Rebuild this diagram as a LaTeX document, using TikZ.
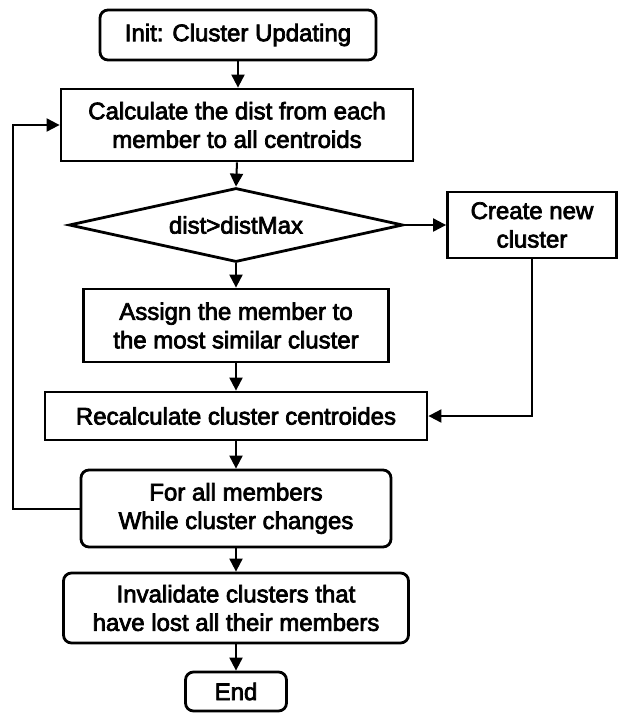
\documentclass[tikz,border=0pt]{standalone}
\usepackage{fontspec}
\setmainfont{Liberation Sans}
\newfontfamily\labfont{Liberation Sans}[FakeBold=3]
\usetikzlibrary{shapes.geometric,arrows.meta}
\tikzset{
  base/.style={draw=black, line width=2.8pt, inner sep=0pt, align=center,
    font=\labfont\fontsize{24}{28.5}\selectfont},
  procbox/.style={base, rectangle},
  roundbox/.style={base, rectangle, rounded corners=8pt},
  decbox/.style={base, diamond, aspect=4.5},
  conn/.style={draw=black, line width=2pt, -{Triangle[length=13pt,width=13pt]}}
}
\begin{document}
\begin{tikzpicture}[x=1pt,y=-1pt]
\useasboundingbox (0,0) rectangle (618,713);
\node[roundbox, minimum width=276pt, minimum height=50pt] (init) at (238,35) {Init: Cluster Updating};
\node[procbox, minimum width=352pt, minimum height=72pt] (calc) at (237,125) {Calculate the dist from each\\member to all centroids};
\node[decbox, minimum width=334pt, minimum height=74pt] (dec) at (236,225) {dist>distMax};
\node[procbox, minimum width=169pt, minimum height=66pt] (create) at (532,225) {Create new\\cluster};
\node[procbox, minimum width=305pt, minimum height=73pt] (assign) at (236,325.5) {Assign the member to\\the most similar cluster};
\node[procbox, minimum width=382pt, minimum height=48pt] (recalc) at (236,416) {Recalculate cluster centroides};
\node[roundbox, minimum width=310pt, minimum height=77pt] (forall) at (236,508.5) {For all members\\While cluster changes};
\node[roundbox, minimum width=345pt, minimum height=70pt] (inval) at (236,608) {Invalidate clusters that\\have lost all their members};
\node[roundbox, minimum width=101pt, minimum height=39pt] (end) at (236,691.5) {End};
\coordinate (lp) at (13,508.5);
\draw[conn] (init.south) -- (init.south |- calc.north);
\draw[conn] (calc.south) -- (dec.north);
\draw[conn] (dec.east) -- (create.west);
\draw[conn] (dec.south) -- (assign.north);
\draw[conn] (assign.south) -- (recalc.north);
\draw[conn] (create.south) |- (recalc.east);
\draw[conn] (recalc.south) -- (forall.north);
\draw[conn] (forall.south) -- (inval.north);
\draw[conn] (inval.south) -- (end.north);
\draw[conn] (forall.west) -- (lp) |- (calc.west);
\end{tikzpicture}
\end{document}
